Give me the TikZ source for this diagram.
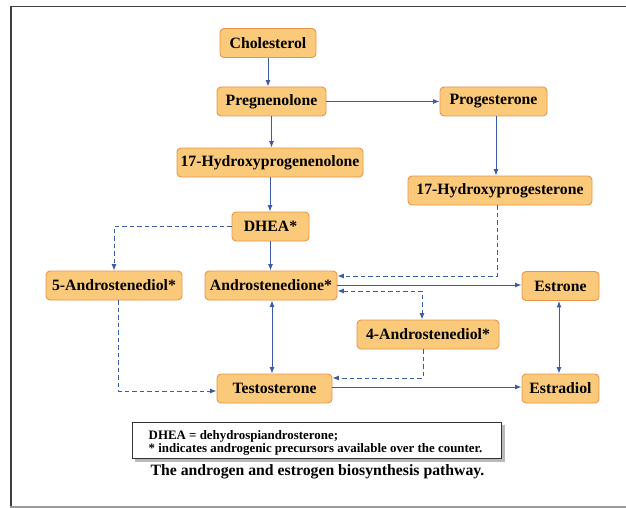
\documentclass[tikz,border=0pt]{standalone}
\usepackage{fontspec}
\setmainfont{Liberation Serif}
\usetikzlibrary{arrows.meta,calc}
\definecolor{boxfill}{HTML}{FBC97A}
\definecolor{boxline}{HTML}{E8944A}
\definecolor{arr}{HTML}{3B5BA5}
\begin{document}
\begin{tikzpicture}[x=1pt,y=-1pt,
  >={Latex[length=6.5pt,width=5pt]},
  stepbox/.style={draw=boxline, fill=boxfill, line width=0.9pt, rounded corners=4pt,
    minimum height=29pt, inner sep=0pt, font=\fontsize{15.75}{18}\selectfont\bfseries},
  con/.style={draw=arr, line width=1pt, ->},
  dcon/.style={con, dash pattern=on 4.5pt off 3pt},
  legtext/.style={anchor=base west, inner sep=0pt, font=\fontsize{12.9}{14}\selectfont\bfseries}]
\useasboundingbox (0,0) rectangle (626,508);
\fill[white] (0,0) rectangle (626,508);
% frame
\draw[black!75, line width=1.5pt] (626,6.5) -- (11,6.5) -- (11,507.5);
\draw[gray!80, line width=1.5pt] (10.25,507) -- (626,507);
% nodes
\node[stepbox, minimum width=96pt]  (chol)      at (268,43)     {Cholesterol};
\node[stepbox, minimum width=109pt] (preg)      at (271.5,101.5) {Pregnenolone};
\node[stepbox, minimum width=186pt] (ohpreg)    at (270,162.5)  {17-Hydroxyprogenenolone};
\node[stepbox, minimum width=107pt] (prog)      at (493.5,101.5) {Progesterone};
\node[stepbox, minimum width=184pt] (ohprog)    at (500,190.5)  {17-Hydroxyprogesterone};
\node[stepbox, minimum width=77pt]  (dhea)      at (270.5,226.5) {DHEA*};
\node[stepbox, minimum width=136pt] (adiol5)    at (114,285.5)  {5-Androstenediol*};
\node[stepbox, minimum width=132pt] (adione)    at (271,285.5)  {Androstenedione*};
\node[stepbox, minimum width=115pt] (testo)     at (274.5,388.5) {Testosterone};
\node[stepbox, minimum width=77pt]  (estrone)   at (560.5,286)  {Estrone};
\node[stepbox, minimum width=142pt] (adiol4)    at (428,334.5)  {4-Androstenediol*};
\node[stepbox, minimum width=77pt]  (estradiol) at (560.5,388.5) {Estradiol};
% connectors
\draw[con] (chol.south) -- (chol.south |- preg.north);
\draw[con] (preg.east) -- (prog.west);
\draw[con] (preg.south) -- (preg.south |- ohpreg.north);
\draw[con] ($(prog.south)+(2.5,0)$) -- ($(prog.south |- ohprog.north)+(2.5,0)$);
\draw[con] (ohpreg.south) -- (ohpreg.south |- dhea.north);
\draw[con] (dhea.south) -- (dhea.south |- adione.north);
\draw[dcon] (dhea.west) -| (adiol5.north);
\draw[dcon] ($(ohprog.south)+(-3,0)$) |- ($(adione.east)+(0,-9.5)$);
\draw[con] ($(adione.east)+(0,-0.5)$) -- ($(adione.east -| estrone.west)+(0,-0.5)$);
\coordinate (a4top) at ($(adiol4.north)+(-6,0)$);
\draw[dcon, <->] ($(adione.east)+(0,5.5)$) -| (a4top);
\draw[con, <->] ($(adione.south)+(1,0)$) -- ($(adione.south |- testo.north)+(1,0)$);
\draw[dcon] ($(adiol5.south)+(4,0)$) |- ($(testo.west)+(0,2.5)$);
\draw[dcon] ($(adiol4.south)+(-5,0)$) |- ($(testo.east)+(0,-10.5)$);
\draw[con] ($(testo.east)+(0,-1.5)$) -- ($(estradiol.west)+(0,-1.5)$);
\draw[con, <->] ($(estrone.south)+(-1.5,0)$) -- ($(estradiol.north)+(-1.5,0)$);
% legend
\fill[gray!55] (135,425) rectangle (504.5,461.5);
\draw[fill=white, draw=black!80, line width=0.8pt] (132,422) rectangle (501,458);
\node[legtext] (leg1) at (148.5,439.3) {DHEA = dehydrospiandrosterone;};
\node[legtext] (leg2) at (148.5,452.3) {* indicates androgenic precursors available over the counter.};
% caption
\node[anchor=base, inner sep=0pt, font=\fontsize{15.75}{18}\selectfont\bfseries] (cap) at (317.5,475) {The androgen and estrogen biosynthesis pathway.};
\end{tikzpicture}
\end{document}
